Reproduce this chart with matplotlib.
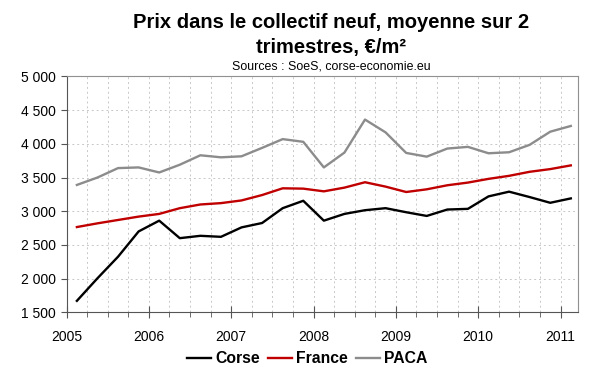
import matplotlib
matplotlib.use('Agg')
import matplotlib.pyplot as plt
from matplotlib.ticker import FuncFormatter, MultipleLocator

plt.rcParams['font.family'] = ['Liberation Sans', 'DejaVu Sans']

# trimestres 2005T1 .. 2011T1
quarters = ['%dT%d' % (y, q) for y in range(2005, 2012) for q in range(1, 5)][:25]
corse = [1670, 2005, 2325, 2700, 2860, 2600, 2635, 2620, 2760, 2825, 3045, 3155, 2860,
         2960, 3015, 3045, 2985, 2930, 3025, 3035, 3220, 3290, 3210, 3125, 3190]
france = [2765, 2820, 2870, 2920, 2960, 3045, 3100, 3120, 3160, 3240, 3340, 3335, 3295,
          3350, 3430, 3365, 3285, 3325, 3385, 3425, 3480, 3525, 3585, 3625, 3680]
paca = [3390, 3500, 3640, 3650, 3575, 3690, 3830, 3800, 3815, 3940, 4070, 4030, 3650,
        3870, 4360, 4170, 3865, 3810, 3930, 3955, 3860, 3875, 3985, 4180, 4265]
years = [2005, 2006, 2007, 2008, 2009, 2010, 2011]

# milieu de chaque trimestre en annee decimale
xs = [int(q[:4]) + (int(q[-1]) - 0.5) / 4 for q in quarters]

fig = plt.figure(figsize=(6.0, 3.72), dpi=100)
ax = fig.add_axes([0.111, 0.1605, 0.852, 0.634])

ax.plot(xs, corse, color='#000000', lw=1.7, label='Corse')
ax.plot(xs, france, color='#c00000', lw=1.7, label='France')
ax.plot(xs, paca, color='#8c8c8c', lw=1.7, label='PACA')

ax.set_xlim(2005, 2011.21)
ax.set_ylim(1500, 5000)
ax.set_xticks(years)
ax.xaxis.set_minor_locator(MultipleLocator(0.25))
ax.yaxis.set_major_locator(MultipleLocator(500))
ax.yaxis.set_major_formatter(FuncFormatter(lambda v, p: '{:,.0f}'.format(v).replace(',', ' ')))

ax.grid(True, which='both', axis='x', ls=(0, (2, 3)), color='#c8c8c8', lw=0.7)
ax.grid(True, which='major', axis='y', ls=(0, (2, 3)), color='#c8c8c8', lw=0.7)
ax.set_axisbelow(True)

for s in ['left', 'bottom']:
    ax.spines[s].set_color('#555555')
for s in ['top', 'right']:
    ax.spines[s].set_color('#909090')

ax.tick_params(axis='x', which='major', direction='inout', length=8, color='#555555',
               labelsize=10, pad=9)
ax.tick_params(axis='x', which='minor', direction='out', length=3.5, color='#555555')
ax.tick_params(axis='y', which='major', direction='out', length=4, color='#555555',
               labelsize=10)

fig.text(0.552, 0.906, 'Prix dans le collectif neuf, moyenne sur 2\ntrimestres, €/m²',
         ha='center', va='center', fontsize=14.5, fontweight='bold', linespacing=1.35)
fig.text(0.552, 0.82, 'Sources : SoeS, corse-economie.eu', ha='center', va='center',
         fontsize=8.9)

leg = fig.legend(loc='center', bbox_to_anchor=(0.512, 0.036), ncol=3, frameon=False,
                 handlelength=1.5, handletextpad=0.25, columnspacing=0.55,
                 prop={'weight': 'bold', 'size': 11.3})

fig.savefig('out.png', dpi=100)
